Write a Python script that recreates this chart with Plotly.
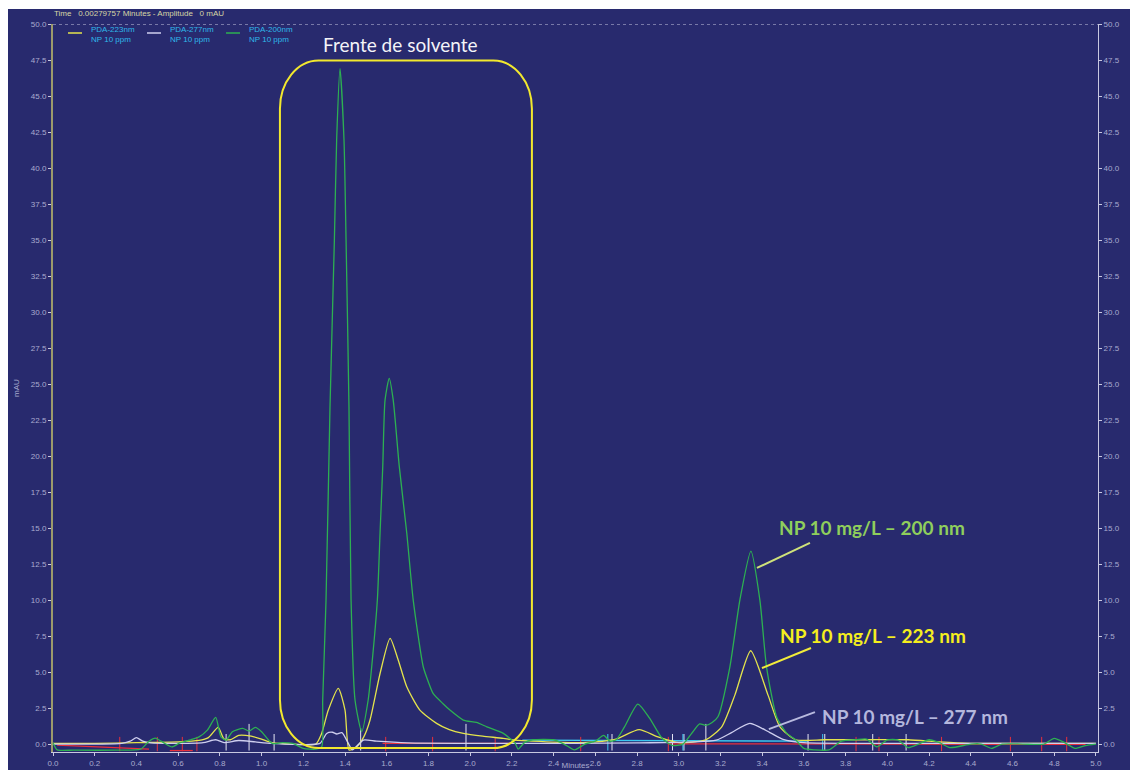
import plotly.graph_objects as go

# ---------------- data ----------------
# PDA-200nm, NP 10 ppm  (time in minutes, amplitude in mAU)
pts_200 = [
    (0.00, 0.10), (0.02, -0.40), (0.10, -0.42), (0.30, -0.42), (0.42, -0.35), (0.46, 0.20),
    (0.49, 0.42), (0.53, 0.10), (0.57, -0.20), (0.61, 0.10), (0.66, 0.30), (0.70, 0.50),
    (0.74, 0.97), (0.78, 1.85), (0.805, 0.50), (0.83, 0.28), (0.86, 0.86), (0.91, 1.09),
    (0.94, 0.90), (0.97, 1.16), (1.00, 0.86), (1.05, 0.05), (1.10, 0.10), (1.15, 0.05),
    (1.20, -0.30), (1.26, -0.35), (1.288, -0.19), (1.293, 3.06), (1.309, 10.0), (1.328, 23.4),
    (1.349, 35.0), (1.360, 42.0), (1.376, 46.9), (1.395, 42.0), (1.405, 35.0), (1.419, 23.4),
    (1.429, 10.0), (1.448, 3.06), (1.480, 0.86), (1.511, 3.06), (1.528, 5.37), (1.555, 10.0),
    (1.568, 14.66), (1.581, 19.3), (1.592, 23.9), (1.612, 25.4), (1.631, 23.9), (1.660, 19.3),
    (1.696, 14.66), (1.727, 10.0), (1.775, 5.37), (1.80, 4.30), (1.823, 3.50), (1.87, 2.80),
    (1.903, 2.36), (1.967, 1.67), (2.03, 1.50), (2.08, 1.20), (2.157, 0.76), (2.215, 0.07),
    (2.23, -0.35), (2.26, 0.10), (2.30, 0.30), (2.40, 0.30), (2.45, 0.00), (2.50, -0.40),
    (2.55, 0.00), (2.60, 0.20), (2.64, 0.60), (2.67, 0.20), (2.70, 0.30), (2.74, 1.20),
    (2.804, 2.78), (2.86, 1.80), (2.92, 0.40), (2.97, -0.10), (3.02, 0.00), (3.062, 0.74),
    (3.10, 1.40), (3.13, 1.30), (3.16, 1.50), (3.188, 1.90), (3.245, 5.35), (3.293, 10.0),
    (3.346, 13.4), (3.389, 10.0), (3.421, 5.35), (3.469, 1.90), (3.517, 0.76), (3.56, 0.30),
    (3.60, -0.30), (3.65, -0.40), (3.72, -0.40), (3.78, 0.20), (3.85, 0.30), (3.90, 0.35),
    (3.95, -0.20), (4.00, 0.30), (4.05, 0.30), (4.10, -0.25), (4.15, 0.00), (4.20, 0.30),
    (4.25, 0.10), (4.30, -0.25), (4.40, 0.00), (4.45, 0.00), (4.50, -0.30), (4.55, 0.00),
    (4.65, 0.00), (4.75, 0.00), (4.80, 0.40), (4.85, 0.10), (4.90, -0.30), (4.95, -0.10),
    (5.00, 0.00),
]

# PDA-223nm, NP 10 ppm
pts_223 = [
    (0.00, 0.05), (0.20, 0.05), (0.40, 0.10), (0.60, 0.15), (0.70, 0.25), (0.745, 0.45),
    (0.792, 1.16), (0.82, 0.35), (0.85, 0.30), (0.89, 0.60), (0.95, 0.55), (1.00, 0.35),
    (1.05, 0.10), (1.15, 0.00), (1.26, 0.00), (1.288, 0.74), (1.320, 2.36), (1.368, 3.87),
    (1.400, 2.36), (1.420, -0.42), (1.456, -0.19), (1.49, 0.50), (1.520, 1.67), (1.568, 4.90),
    (1.616, 7.34), (1.655, 5.84), (1.696, 3.98), (1.759, 2.36), (1.839, 1.44), (1.90, 1.00),
    (1.967, 0.74), (2.06, 0.55), (2.159, 0.40), (2.215, 0.28), (2.30, 0.20), (2.50, 0.10),
    (2.60, 0.15), (2.70, 0.35), (2.81, 1.00), (2.90, 0.50), (3.00, 0.10), (3.13, 0.30),
    (3.206, 1.20), (3.269, 3.40), (3.345, 6.48), (3.428, 3.40), (3.485, 1.20), (3.56, 0.30),
    (3.70, 0.30), (3.90, 0.30), (4.10, 0.30), (4.25, 0.15), (4.40, 0.05), (4.70, 0.05),
    (5.00, 0.05),
]

# PDA-277nm, NP 10 ppm
pts_277 = [
    (0.00, 0.00), (0.20, 0.00), (0.33, 0.05), (0.37, 0.20), (0.40, 0.45), (0.43, 0.20),
    (0.47, 0.08), (0.60, 0.05), (0.72, 0.10), (0.78, 0.30), (0.82, 0.10), (0.89, 0.25),
    (0.97, 0.15), (1.05, 0.05), (1.28, 0.05), (1.312, 0.74), (1.34, 0.82), (1.36, 0.70),
    (1.385, 0.80), (1.416, 0.05), (1.435, -0.40), (1.488, 0.28), (1.55, 0.20), (1.70, 0.08),
    (2.20, 0.05), (2.80, 0.08), (3.18, 0.28), (3.253, 0.80), (3.341, 1.44), (3.437, 0.80),
    (3.50, 0.33), (3.60, 0.10), (4.00, 0.05), (5.00, 0.05),
]

# integration baselines (start time, end time, start level, end level)
red_base_t0 = [0.02, 0.56, 1.58, 2.95]
red_base_t1 = [0.46, 0.67, 2.22, 4.95]
red_base_v0 = [-0.07, -0.45, 0.05, 0.02]
red_base_v1 = [-0.35, -0.45, 0.05, -0.02]
cyan_base_t0 = [2.25]
cyan_base_t1 = [3.62]
cyan_base_v0 = [0.28]
cyan_base_v1 = [0.20]

# integration event markers
white_mark_t = [0.83, 0.94, 1.06, 1.475, 1.98, 2.68, 2.97, 3.025, 3.13, 3.62, 3.70, 3.93, 4.09]
white_mark_top = [0.7, 1.4, 0.7, 1.1, 1.4, 0.7, 0.7, 0.7, 1.4, 0.7, 0.7, 0.7, 0.7]
red_mark_t = [0.32, 0.50, 0.62, 0.69, 1.595, 1.82, 2.12, 2.53, 2.95, 3.85, 3.96, 4.26, 4.59, 4.74, 4.86]
cyan_mark_t = [2.66, 3.02, 3.69]

series_names = ["PDA-223nm<br>NP 10 ppm", "PDA-277nm<br>NP 10 ppm", "PDA-200nm<br>NP 10 ppm"]
header_text = "Time   0.00279757 Minutes - Amplitude   0 mAU"
box_label = "Frente de solvente"
peak_labels = ["NP 10 mg/L \u2013 200 nm", "NP 10 mg/L \u2013 223 nm", "NP 10 mg/L \u2013 277 nm"]

# ---------------- styling ----------------
NAVY = "#282A6E"
TICK = "#A9AACF"
C200 = "#2DB052"
C223 = "#E4E44C"
C277 = "#CFCFEF"
LEG_TXT = "#2FB8EA"

# plot-area geometry in pixels (for placing the header and the legend)
L, R, T, B, W, H = 53, 32, 24, 18, 1130, 770
PW, PH = W - L - R, H - T - B


def px_x(px):
    return (px - L) / PW


def px_y(py):
    return (H - B - py) / PH


def split(pts):
    return [p[0] for p in pts], [p[1] for p in pts]


def segments(t0, t1, v0, v1):
    xs, ys = [], []
    for a, b, c, d in zip(t0, t1, v0, v1):
        xs += [a, b, None]
        ys += [c, d, None]
    return xs, ys


def marks(ts, lo, hi):
    xs, ys = [], []
    for i, t in enumerate(ts):
        h = hi[i] if isinstance(hi, list) else hi
        xs += [t, t, None]
        ys += [lo, h, None]
    return xs, ys


fig = go.Figure()

# baselines and event markers (drawn beneath the chromatograms)
bx, by = segments(red_base_t0, red_base_t1, red_base_v0, red_base_v1)
fig.add_trace(go.Scatter(x=bx, y=by, mode="lines", line=dict(color="#E8303C", width=1.3),
                         showlegend=False, hoverinfo="skip"))
cx, cy = segments(cyan_base_t0, cyan_base_t1, cyan_base_v0, cyan_base_v1)
fig.add_trace(go.Scatter(x=cx, y=cy, mode="lines", line=dict(color="#3CC8F0", width=1.3),
                         showlegend=False, hoverinfo="skip"))
mx, my = marks(red_mark_t, -0.5, 0.5)
fig.add_trace(go.Scatter(x=mx, y=my, mode="lines", line=dict(color="#E8303C", width=1),
                         showlegend=False, hoverinfo="skip"))
mx, my = marks(white_mark_t, -0.45, white_mark_top)
fig.add_trace(go.Scatter(x=mx, y=my, mode="lines", line=dict(color="#E6E6F4", width=1),
                         showlegend=False, hoverinfo="skip"))
mx, my = marks(cyan_mark_t, -0.45, 0.7)
fig.add_trace(go.Scatter(x=mx, y=my, mode="lines", line=dict(color="#3CC8F0", width=1),
                         showlegend=False, hoverinfo="skip"))

# chromatograms
series = [(pts_223, series_names[0], C223),
          (pts_277, series_names[1], C277),
          (pts_200, series_names[2], C200)]
for pts, name, col in series:
    x, y = split(pts)
    fig.add_trace(go.Scatter(x=x, y=y, mode="lines", name=name, showlegend=False,
                             line=dict(color=col, width=1.3, shape="spline", smoothing=0.6)))

# right-hand axis companion
fig.add_trace(go.Scatter(x=[None], y=[None], yaxis="y2", showlegend=False, hoverinfo="skip"))


def rounded_rect(x0, x1, y0, y1, rx, ry):
    k = 0.5523
    return (f"M{x0 + rx},{y1} L{x1 - rx},{y1} "
            f"C{x1 - rx + k * rx},{y1} {x1},{y1 - ry + k * ry} {x1},{y1 - ry} "
            f"L{x1},{y0 + ry} "
            f"C{x1},{y0 + ry - k * ry} {x1 - rx + k * rx},{y0} {x1 - rx},{y0} "
            f"L{x0 + rx},{y0} "
            f"C{x0 + rx - k * rx},{y0} {x0},{y0 + ry - k * ry} {x0},{y0 + ry} "
            f"L{x0},{y1 - ry} "
            f"C{x0},{y1 - ry + k * ry} {x0 + rx - k * rx},{y1} {x0 + rx},{y1} Z")


shapes = [
    # white margins of the scanned figure
    dict(type="rect", xref="paper", yref="paper", x0=-0.06, x1=1.04, y0=px_y(9), y1=1.04,
         fillcolor="white", line=dict(width=0), layer="below"),
    dict(type="rect", xref="paper", yref="paper", x0=-0.06, x1=px_x(8), y0=-0.05, y1=1.04,
         fillcolor="white", line=dict(width=0), layer="below"),
    # dotted top frame at 50 mAU
    dict(type="line", xref="paper", yref="y", x0=0, x1=1, y0=50, y1=50,
         line=dict(color="#C8C8E2", width=1, dash="dot")),
    # solvent-front box
    dict(type="path", xref="x", yref="y",
         path=rounded_rect(1.088, 2.296, -0.28, 47.46, 0.185, 3.35),
         line=dict(color="#F2E82E", width=2)),
    # leader lines
    dict(type="line", xref="x", yref="y", x0=3.375, y0=12.23, x1=3.629, y1=13.97,
         line=dict(color="#CFE27A", width=2)),
    dict(type="line", xref="x", yref="y", x0=3.399, y0=5.28, x1=3.634, y1=6.67,
         line=dict(color="#F2EC3A", width=2)),
    dict(type="line", xref="x", yref="y", x0=3.432, y0=1.04, x1=3.653, y1=2.22,
         line=dict(color="#B8BADF", width=2)),
]

annotations = [
    dict(text=header_text, xref="paper", yref="paper", x=px_x(52), y=px_y(13), xanchor="left",
         yanchor="middle", showarrow=False, font=dict(size=8, color="#D6D6A6")),
    dict(text=box_label, xref="x", yref="y", x=1.663, y=48.57, showarrow=False,
         font=dict(family="Lato", size=19, color="#F4F4F8")),
    dict(text="<b>" + peak_labels[0] + "</b>", xref="x", yref="y", x=3.926, y=15.01,
         showarrow=False, font=dict(family="Lato", size=19, color="#8FCE5C")),
    dict(text="<b>" + peak_labels[1] + "</b>", xref="x", yref="y", x=3.931, y=7.51,
         showarrow=False, font=dict(family="Lato", size=19, color="#F4EE1E")),
    dict(text="<b>" + peak_labels[2] + "</b>", xref="x", yref="y", x=4.132, y=1.95,
         showarrow=False, font=dict(family="Lato", size=19, color="#B4B7DD")),
]

# legend block (line sample + two-line label), placed like the instrument software
legend_line_px = [(68, 82), (147, 161), (226, 240)]
legend_text_px = [89, 168, 247]
for (a, b), tx, (_, name, col) in zip(legend_line_px, legend_text_px, series):
    shapes.append(dict(type="line", xref="paper", yref="paper", x0=px_x(a), x1=px_x(b),
                       y0=px_y(33), y1=px_y(33), line=dict(color=col, width=1.5)))
    annotations.append(dict(text=name, xref="paper", yref="paper", x=px_x(tx), y=px_y(34.5),
                            xanchor="left", yanchor="middle", align="left", showarrow=False,
                            font=dict(size=8, color=LEG_TXT)))

yaxis_common = dict(range=[-0.55, 50], dtick=2.5, tick0=0, tickformat=".1f", showgrid=False,
                    zeroline=False, ticks="outside", ticklen=3, tickcolor="#C8C8E0",
                    tickfont=dict(size=8, color=TICK), automargin=False)

fig.update_layout(
    width=W, height=H,
    margin=dict(l=L, r=R, t=T, b=B),
    paper_bgcolor=NAVY, plot_bgcolor=NAVY,
    font=dict(family="Liberation Sans, Arial, sans-serif", size=8, color=TICK),
    shapes=shapes, annotations=annotations,
    showlegend=False,
    xaxis=dict(range=[0, 5.01], dtick=0.2, tick0=0, tickformat=".1f", showgrid=False,
               zeroline=False, showline=True, linecolor="#C8C8E0", linewidth=1,
               ticks="outside", ticklen=3, tickcolor="#C8C8E0",
               tickfont=dict(size=8, color=TICK), automargin=False,
               title=dict(text="Minutes", font=dict(size=8, color=TICK), standoff=2)),
    yaxis=dict(**yaxis_common, showline=True, linecolor="#9C9A6C", linewidth=2,
               title=dict(text="mAU", font=dict(size=8, color=TICK), standoff=10)),
    yaxis2=dict(**yaxis_common, overlaying="y", side="right", matches="y",
                showline=True, linecolor="#C8C8E0", linewidth=1),
)

fig.write_html("out.html")
